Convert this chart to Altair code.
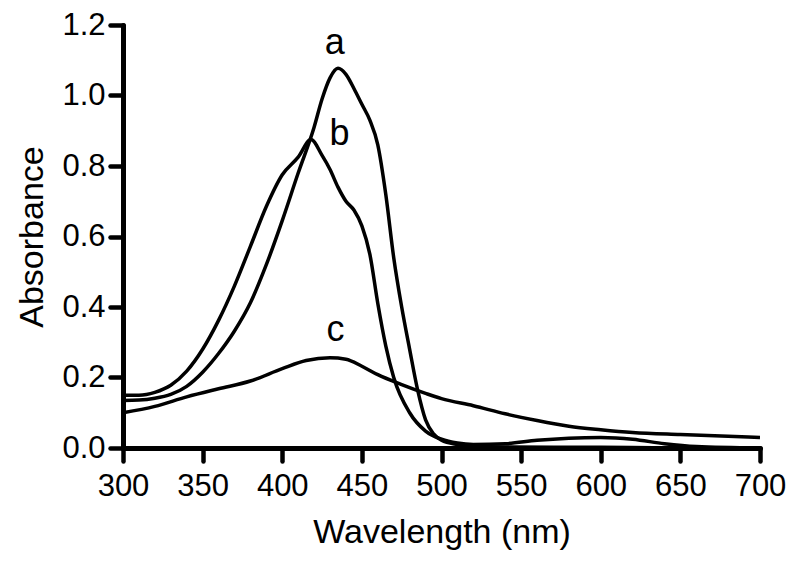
import altair as alt
import pandas as pd

# Curve a
a_nm = [300, 310, 320, 330, 340, 350, 360, 370, 380, 390, 400, 410, 420, 425, 430, 435, 440, 445, 450, 455,
        460, 465, 470, 475, 480, 485, 490, 495, 500, 510, 520, 540, 600, 650, 700]
a_abs = [0.135, 0.136, 0.141, 0.152, 0.175, 0.215, 0.268, 0.332, 0.412, 0.52, 0.645, 0.78, 0.91, 0.99, 1.05, 1.077,
         1.06, 1.02, 0.975, 0.93, 0.86, 0.72, 0.54, 0.40, 0.28, 0.165, 0.08, 0.04, 0.022, 0.01, 0.005, 0.003,
         0.002, 0.0, 0.0]

# Curve b
b_nm = [300, 310, 320, 330, 340, 350, 360, 370, 380, 390, 400, 410, 418, 425, 430, 435, 440, 445, 450, 455,
        460, 465, 470, 480, 490, 500, 510, 520, 540, 560, 580, 600, 620, 640, 660, 700]
b_abs = [0.15, 0.15, 0.158, 0.178, 0.218, 0.28, 0.362, 0.46, 0.572, 0.685, 0.775, 0.825, 0.875, 0.83, 0.79,
         0.74, 0.70, 0.675, 0.63, 0.55, 0.41, 0.29, 0.20, 0.10, 0.048, 0.025, 0.014, 0.01, 0.012, 0.022,
         0.028, 0.03, 0.025, 0.012, 0.004, 0.0]

# Curve c
c_nm = [300, 320, 340, 360, 380, 400, 415, 430, 440, 450, 460, 475, 490, 500, 520, 540, 560, 580, 600, 620, 650,
        680, 700]
c_abs = [0.10, 0.118, 0.145, 0.168, 0.19, 0.225, 0.248, 0.256, 0.252, 0.232, 0.208, 0.18, 0.155, 0.14, 0.12, 0.097,
         0.078, 0.062, 0.052, 0.044, 0.038, 0.033, 0.03]

label_text = ["a", "b", "c"]
label_nm = [433, 436, 433.5]
label_abs = [1.15, 0.89, 0.335]

x_ticks = [300, 350, 400, 450, 500, 550, 600, 650, 700]
y_ticks = [0.0, 0.2, 0.4, 0.6, 0.8, 1.0, 1.2]

rows = []
for s, xs, ys in (("a", a_nm, a_abs), ("b", b_nm, b_abs), ("c", c_nm, c_abs)):
    for x, y in zip(xs, ys):
        rows.append({"series": s, "nm": x, "abs": y})
df = pd.DataFrame(rows)
lab = pd.DataFrame({"t": label_text, "nm": label_nm, "abs": label_abs})

FONT = "Liberation Sans"

xenc = alt.X("nm:Q", scale=alt.Scale(domain=[300, 700], nice=False),
             axis=alt.Axis(values=x_ticks, title="Wavelength (nm)", format="d",
                           labelOverlap=False, labelFlush=False, labelPadding=10))
yenc = alt.Y("abs:Q", scale=alt.Scale(domain=[0, 1.2], nice=False),
             axis=alt.Axis(values=y_ticks, title="Absorbance", format=".1f",
                           labelOverlap=False, labelFlush=False))

lines = alt.Chart(df).mark_line(color="black", strokeWidth=3.5, interpolate="monotone").encode(
    x=xenc, y=yenc, detail="series:N")

texts = alt.Chart(lab).mark_text(font=FONT, fontSize=36, color="black", baseline="middle", align="center").encode(
    x="nm:Q", y="abs:Q", text="t:N")

chart = alt.layer(lines, texts).properties(
    width=637, height=423,
    autosize=alt.AutoSizeParams(type="none"),
    padding={"left": 115, "top": 17, "right": 30, "bottom": 112},
).configure_view(stroke=None).configure_axis(
    grid=False,
    domainColor="black", domainWidth=5, domainCap="round",
    tickColor="black", tickWidth=4.5, tickSize=13, tickCap="round",
    labelFont=FONT, labelFontSize=31, labelColor="black", labelPadding=5,
    titleFont=FONT, titleFontSize=34, titleColor="black", titleFontWeight="normal",
).configure_axisX(titlePadding=14).configure_axisY(titlePadding=12)

chart.save("out.html", embed_options={"renderer": "svg", "actions": False})
